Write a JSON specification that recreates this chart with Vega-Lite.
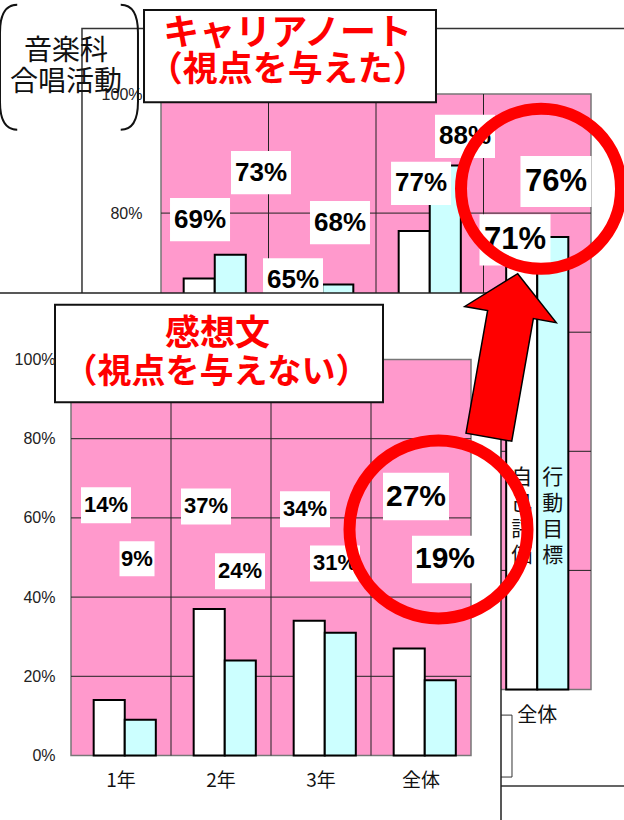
{
  "$schema": "https://vega.github.io/schema/vega-lite/v6.json",
  "width": 624,
  "height": 820,
  "autosize": "none",
  "padding": 0,
  "background": "white",
  "config": {"view": {"stroke": null}},
  "datasets": {
    "bars": [
      {"chart": "キャリアノート", "cat": "1年", "series": "自己評価", "value": 0.69, "lu": 0.363, "ly": 0.789},
      {"chart": "キャリアノート", "cat": "1年", "series": "行動目標", "value": 0.73, "lu": 0.93, "ly": 0.868},
      {"chart": "キャリアノート", "cat": "2年", "series": "自己評価", "value": 0.65, "lu": 1.228, "ly": 0.688},
      {"chart": "キャリアノート", "cat": "2年", "series": "行動目標", "value": 0.68, "lu": 1.665, "ly": 0.784},
      {"chart": "キャリアノート", "cat": "3年", "series": "自己評価", "value": 0.77, "lu": 2.419, "ly": 0.85},
      {"chart": "キャリアノート", "cat": "3年", "series": "行動目標", "value": 0.88, "lu": 2.828, "ly": 0.929},
      {"chart": "キャリアノート", "cat": "全体", "series": "自己評価", "value": 0.71, "lu": 3.293, "ly": 0.755},
      {"chart": "キャリアノート", "cat": "全体", "series": "行動目標", "value": 0.76, "lu": 3.674, "ly": 0.853},
      {"chart": "感想文", "cat": "1年", "series": "自己評価", "value": 0.14, "lu": 0.35, "ly": 0.632},
      {"chart": "感想文", "cat": "1年", "series": "行動目標", "value": 0.09, "lu": 0.66, "ly": 0.497},
      {"chart": "感想文", "cat": "2年", "series": "自己評価", "value": 0.37, "lu": 1.35, "ly": 0.629},
      {"chart": "感想文", "cat": "2年", "series": "行動目標", "value": 0.24, "lu": 1.69, "ly": 0.465},
      {"chart": "感想文", "cat": "3年", "series": "自己評価", "value": 0.34, "lu": 2.34, "ly": 0.622},
      {"chart": "感想文", "cat": "3年", "series": "行動目標", "value": 0.31, "lu": 2.64, "ly": 0.485},
      {"chart": "感想文", "cat": "全体", "series": "自己評価", "value": 0.27, "lu": 3.45, "ly": 0.654},
      {"chart": "感想文", "cat": "全体", "series": "行動目標", "value": 0.19, "lu": 3.74, "ly": 0.495}
    ],
    "one": [{"k": 1}]
  },
  "resolve": {"scale": {"x": "independent", "y": "independent"}, "axis": {"x": "independent", "y": "independent"}},
  "layer": [
    {
      "data": {"name": "one"},
      "layer": [
        {
          "mark": {"type": "rect", "fillOpacity": 0, "stroke": "#333", "strokeWidth": 1.5},
          "encoding": {
            "x": {"datum": -0.735, "type": "quantitative", "scale": {"domain": [0, 4], "range": [161, 591], "nice": false, "zero": false}, "axis": null},
            "x2": {"datum": 4.5},
            "y": {"datum": 1.11, "type": "quantitative", "scale": {"domain": [0, 1], "range": [689.5, 94], "nice": false}, "axis": null},
            "y2": {"datum": -0.162}
          }
        },
        {
          "mark": {"type": "rect", "fill": "#ff99cc", "stroke": "#777", "strokeWidth": 1.5},
          "encoding": {
            "x": {"datum": 0, "type": "quantitative", "scale": {"domain": [0, 4], "range": [161, 591], "nice": false, "zero": false}, "axis": null},
            "x2": {"datum": 4},
            "y": {"datum": 0, "type": "quantitative", "scale": {"domain": [0, 1], "range": [689.5, 94], "nice": false}, "axis": null},
            "y2": {"datum": 1}
          }
        },
        {
          "data": {"values": [{"v": 0.2}, {"v": 0.4}, {"v": 0.6}, {"v": 0.8}]},
          "mark": {"type": "rule", "color": "#222", "strokeWidth": 1},
          "encoding": {
            "y": {"field": "v", "type": "quantitative", "scale": {"domain": [0, 1], "range": [689.5, 94], "nice": false}, "axis": null},
            "x": {"datum": 0, "type": "quantitative", "scale": {"domain": [0, 4], "range": [161, 591], "nice": false, "zero": false}, "axis": null},
            "x2": {"datum": 4}
          }
        },
        {
          "data": {"values": [{"k": 1}, {"k": 2}, {"k": 3}]},
          "mark": {"type": "rule", "color": "#222", "strokeWidth": 1},
          "encoding": {
            "x": {"field": "k", "type": "quantitative", "scale": {"domain": [0, 4], "range": [161, 591], "nice": false, "zero": false}, "axis": null},
            "y": {"datum": 0, "type": "quantitative", "scale": {"domain": [0, 1], "range": [689.5, 94], "nice": false}, "axis": null},
            "y2": {"datum": 1}
          }
        }
      ]
    },
    {
      "data": {"name": "bars"},
      "transform": [{"filter": "datum.chart === 'キャリアノート'"}],
      "layer": [
        {
          "mark": {"type": "bar", "stroke": "black", "strokeWidth": 2},
          "encoding": {
            "x": {"field": "cat", "type": "nominal", "sort": ["1年", "2年", "3年", "全体"], "scale": {"range": [161, 591], "paddingInner": 0, "paddingOuter": 0},
              "axis": {"orient": "bottom", "offset": -130.5, "values": ["全体"], "ticks": false, "domain": false, "grid": false, "title": null, "labelAngle": 0, "labelPadding": 16, "labelFont": "Noto Sans CJK JP", "labelFontSize": 20, "labelColor": "#111", "labelBaseline": "top", "zindex": 0}},
            "xOffset": {"field": "series", "type": "nominal", "sort": ["自己評価", "行動目標"], "scale": {"paddingInner": 0, "paddingOuter": 0.73}},
            "y": {"field": "value", "type": "quantitative", "scale": {"domain": [0, 1], "range": [689.5, 94], "nice": false},
              "axis": {"orient": "left", "offset": -161, "values": [0.8, 1], "format": ".0%", "ticks": false, "domain": false, "grid": false, "title": null, "labelPadding": 19, "labelFont": "Liberation Sans", "labelFontSize": 16, "labelColor": "#222", "zindex": 0}},
            "fill": {"field": "series", "type": "nominal", "scale": {"domain": ["自己評価", "行動目標"], "range": ["#ffffff", "#ccffff"]}, "legend": null}
          }
        },
        {
          "transform": [{"filter": "datum.cat === '全体'"}, {"calculate": "split(datum.series, '')", "as": "chars"}],
          "mark": {"type": "text", "font": "Noto Sans CJK JP", "fontSize": 21, "lineHeight": 26, "baseline": "middle", "align": "center", "color": "#111"},
          "encoding": {
            "x": {"field": "cat", "type": "nominal", "sort": ["1年", "2年", "3年", "全体"]},
            "xOffset": {"field": "series", "type": "nominal", "sort": ["自己評価", "行動目標"]},
            "y": {"datum": 0.356, "type": "quantitative"},
            "text": {"field": "chars"}
          }
        }
      ]
    },
    {
      "layer": [
        {
          "data": {"name": "one"},
          "mark": {"type": "rect", "fill": "white", "stroke": "#333", "strokeWidth": 1},
          "encoding": {
            "x": {"datum": 3.1, "type": "quantitative", "scale": {"domain": [0, 4], "range": [161, 591], "nice": false, "zero": false}, "axis": null},
            "x2": {"datum": 3.265},
            "y": {"datum": -0.043, "type": "quantitative", "scale": {"domain": [0, 1], "range": [689.5, 94], "nice": false}, "axis": null},
            "y2": {"datum": -0.147}
          }
        },
        {
          "data": {"name": "bars"},
          "transform": [{"filter": "datum.chart === 'キャリアノート'"}],
          "mark": {"type": "point", "filled": true, "color": "white", "opacity": 1, "strokeWidth": 0, "shape": "M-1,-0.72L1,-0.72L1,0.72L-1,0.72Z"},
          "encoding": {
            "x": {"field": "lu", "type": "quantitative", "scale": {"domain": [0, 4], "range": [161, 591], "nice": false, "zero": false}, "axis": null},
            "y": {"field": "ly", "type": "quantitative", "scale": {"domain": [0, 1], "range": [689.5, 94], "nice": false}, "axis": null},
            "size": {"condition": {"test": "datum.cat === '全体'", "value": 5041}, "value": 3600}
          }
        },
        {
          "data": {"name": "bars"},
          "transform": [{"filter": "datum.chart === 'キャリアノート'"}],
          "mark": {"type": "text", "font": "Liberation Sans", "fontWeight": "bold", "align": "center", "baseline": "middle", "color": "black"},
          "encoding": {
            "x": {"field": "lu", "type": "quantitative", "scale": {"domain": [0, 4], "range": [161, 591], "nice": false, "zero": false}, "axis": null},
            "y": {"field": "ly", "type": "quantitative", "scale": {"domain": [0, 1], "range": [689.5, 94], "nice": false}, "axis": null},
            "text": {"field": "value", "type": "quantitative", "format": ".0%"},
            "size": {"condition": {"test": "datum.cat === '全体'", "value": 31}, "value": 26}
          }
        },
        {
          "data": {"name": "one"},
          "mark": {"type": "point", "shape": "circle", "filled": false, "color": "#ff0000", "strokeWidth": 12, "size": 25600, "opacity": 1},
          "encoding": {
            "x": {"datum": 3.535, "type": "quantitative", "scale": {"domain": [0, 4], "range": [161, 591], "nice": false, "zero": false}, "axis": null},
            "y": {"datum": 0.841, "type": "quantitative", "scale": {"domain": [0, 1], "range": [689.5, 94], "nice": false}, "axis": null}
          }
        },
        {
          "data": {"name": "one"},
          "mark": {"type": "rect", "fill": "white", "stroke": "#111", "strokeWidth": 2},
          "encoding": {
            "x": {"datum": -0.158, "type": "quantitative", "scale": {"domain": [0, 4], "range": [161, 591], "nice": false, "zero": false}, "axis": null},
            "x2": {"datum": 2.558},
            "y": {"datum": 1.141, "type": "quantitative", "scale": {"domain": [0, 1], "range": [689.5, 94], "nice": false}, "axis": null},
            "y2": {"datum": 0.986}
          }
        },
        {
          "data": {"name": "one"},
          "mark": {"type": "text", "text": "キャリアノート", "font": "Noto Sans CJK JP", "fontWeight": "bold", "fontSize": 36, "color": "#ff0000", "align": "center", "baseline": "middle"},
          "encoding": {
            "x": {"datum": 1.177, "type": "quantitative", "scale": {"domain": [0, 4], "range": [161, 591], "nice": false, "zero": false}, "axis": null},
            "y": {"datum": 1.1, "type": "quantitative", "scale": {"domain": [0, 1], "range": [689.5, 94], "nice": false}, "axis": null}
          }
        },
        {
          "data": {"name": "one"},
          "mark": {"type": "text", "text": "（視点を与えた）", "font": "Noto Sans CJK JP", "fontWeight": "bold", "fontSize": 35, "color": "#ff0000", "align": "center", "baseline": "middle"},
          "encoding": {
            "x": {"datum": 1.18, "type": "quantitative", "scale": {"domain": [0, 4], "range": [161, 591], "nice": false, "zero": false}, "axis": null},
            "y": {"datum": 1.04, "type": "quantitative", "scale": {"domain": [0, 1], "range": [689.5, 94], "nice": false}, "axis": null}
          }
        },
        {
          "data": {"name": "one"},
          "mark": {"type": "text", "text": "音楽科", "font": "Noto Sans CJK JP", "fontSize": 28, "color": "#111", "align": "center", "baseline": "middle"},
          "encoding": {
            "x": {"datum": -0.884, "type": "quantitative", "scale": {"domain": [0, 4], "range": [161, 591], "nice": false, "zero": false}, "axis": null},
            "y": {"datum": 1.071, "type": "quantitative", "scale": {"domain": [0, 1], "range": [689.5, 94], "nice": false}, "axis": null}
          }
        },
        {
          "data": {"name": "one"},
          "mark": {"type": "text", "text": "合唱活動", "font": "Noto Sans CJK JP", "fontSize": 28, "color": "#111", "align": "center", "baseline": "middle"},
          "encoding": {
            "x": {"datum": -0.884, "type": "quantitative", "scale": {"domain": [0, 4], "range": [161, 591], "nice": false, "zero": false}, "axis": null},
            "y": {"datum": 1.019, "type": "quantitative", "scale": {"domain": [0, 1], "range": [689.5, 94], "nice": false}, "axis": null}
          }
        },
        {
          "data": {"name": "one"},
          "mark": {"type": "point", "shape": "M-0.75,-0.906Q-1,-0.906,-1,-0.5L-1,0.5Q-1,0.906,-0.75,0.906M0.75,-0.906Q1,-0.906,1,-0.5L1,0.5Q1,0.906,0.75,0.906", "filled": false, "color": "#111", "strokeWidth": 2, "size": 19044, "opacity": 1},
          "encoding": {
            "x": {"datum": -0.856, "type": "quantitative", "scale": {"domain": [0, 4], "range": [161, 591], "nice": false, "zero": false}, "axis": null},
            "y": {"datum": 1.045, "type": "quantitative", "scale": {"domain": [0, 1], "range": [689.5, 94], "nice": false}, "axis": null}
          }
        }
      ]
    },
    {
      "data": {"name": "one"},
      "layer": [
        {
          "mark": {"type": "rect", "fill": "white", "stroke": "#222", "strokeWidth": 1.5},
          "encoding": {
            "x": {"datum": -0.75, "type": "quantitative", "scale": {"domain": [0, 4], "range": [71, 471], "nice": false, "zero": false}, "axis": null},
            "x2": {"datum": 4.3},
            "y": {"datum": 1.168, "type": "quantitative", "scale": {"domain": [0, 1], "range": [755.5, 359.5], "nice": false}, "axis": null},
            "y2": {"datum": -0.2}
          }
        },
        {
          "mark": {"type": "rect", "fill": "#ff99cc", "stroke": "#777", "strokeWidth": 1.5},
          "encoding": {
            "x": {"datum": 0, "type": "quantitative", "scale": {"domain": [0, 4], "range": [71, 471], "nice": false, "zero": false}, "axis": null},
            "x2": {"datum": 4},
            "y": {"datum": 0, "type": "quantitative", "scale": {"domain": [0, 1], "range": [755.5, 359.5], "nice": false}, "axis": null},
            "y2": {"datum": 1}
          }
        },
        {
          "data": {"values": [{"v": 0.2}, {"v": 0.4}, {"v": 0.6}, {"v": 0.8}]},
          "mark": {"type": "rule", "color": "#222", "strokeWidth": 1},
          "encoding": {
            "y": {"field": "v", "type": "quantitative", "scale": {"domain": [0, 1], "range": [755.5, 359.5], "nice": false}, "axis": null},
            "x": {"datum": 0, "type": "quantitative", "scale": {"domain": [0, 4], "range": [71, 471], "nice": false, "zero": false}, "axis": null},
            "x2": {"datum": 4}
          }
        },
        {
          "data": {"values": [{"k": 1}, {"k": 2}, {"k": 3}]},
          "mark": {"type": "rule", "color": "#222", "strokeWidth": 1},
          "encoding": {
            "x": {"field": "k", "type": "quantitative", "scale": {"domain": [0, 4], "range": [71, 471], "nice": false, "zero": false}, "axis": null},
            "y": {"datum": 0, "type": "quantitative", "scale": {"domain": [0, 1], "range": [755.5, 359.5], "nice": false}, "axis": null},
            "y2": {"datum": 1}
          }
        }
      ]
    },
    {
      "data": {"name": "bars"},
      "transform": [{"filter": "datum.chart === '感想文'"}],
      "mark": {"type": "bar", "stroke": "black", "strokeWidth": 2},
      "encoding": {
        "x": {"field": "cat", "type": "nominal", "sort": ["1年", "2年", "3年", "全体"], "scale": {"range": [71, 471], "paddingInner": 0, "paddingOuter": 0},
          "axis": {"orient": "bottom", "offset": -64.5, "ticks": false, "domain": false, "grid": false, "title": null, "labelAngle": 0, "labelPadding": 16, "labelFont": "Noto Sans CJK JP", "labelFontSize": 19, "labelColor": "#111", "labelBaseline": "top", "zindex": 1}},
        "xOffset": {"field": "series", "type": "nominal", "sort": ["自己評価", "行動目標"], "scale": {"paddingInner": 0, "paddingOuter": 0.73}},
        "y": {"field": "value", "type": "quantitative", "scale": {"domain": [0, 1], "range": [755.5, 359.5], "nice": false},
          "axis": {"orient": "left", "offset": -71, "values": [0, 0.2, 0.4, 0.6, 0.8, 1], "format": ".0%", "ticks": false, "domain": false, "grid": false, "title": null, "labelPadding": 16, "labelFont": "Liberation Sans", "labelFontSize": 16, "labelColor": "#222", "zindex": 1}},
        "fill": {"field": "series", "type": "nominal", "scale": {"domain": ["自己評価", "行動目標"], "range": ["#ffffff", "#ccffff"]}, "legend": null}
      }
    },
    {
      "layer": [
        {
          "data": {"name": "bars"},
          "transform": [{"filter": "datum.chart === '感想文'"}],
          "mark": {"type": "point", "filled": true, "color": "white", "opacity": 1, "strokeWidth": 0},
          "encoding": {
            "x": {"field": "lu", "type": "quantitative", "scale": {"domain": [0, 4], "range": [71, 471], "nice": false, "zero": false}, "axis": null},
            "y": {"field": "ly", "type": "quantitative", "scale": {"domain": [0, 1], "range": [755.5, 359.5], "nice": false}, "axis": null},
            "shape": {"condition": {"test": "datum.value < 0.1", "value": "square"}, "value": "M-1,-0.72L1,-0.72L1,0.72L-1,0.72Z"},
            "size": {"condition": [{"test": "datum.cat === '全体'", "value": 4356}, {"test": "datum.value < 0.1", "value": 1225}], "value": 2500}
          }
        },
        {
          "data": {"name": "bars"},
          "transform": [{"filter": "datum.chart === '感想文'"}],
          "mark": {"type": "text", "font": "Liberation Sans", "fontWeight": "bold", "align": "center", "baseline": "middle", "color": "black"},
          "encoding": {
            "x": {"field": "lu", "type": "quantitative", "scale": {"domain": [0, 4], "range": [71, 471], "nice": false, "zero": false}, "axis": null},
            "y": {"field": "ly", "type": "quantitative", "scale": {"domain": [0, 1], "range": [755.5, 359.5], "nice": false}, "axis": null},
            "text": {"field": "value", "type": "quantitative", "format": ".0%"},
            "size": {"condition": {"test": "datum.cat === '全体'", "value": 30}, "value": 22}
          }
        },
        {
          "data": {"name": "one"},
          "mark": {"type": "rect", "fill": "white", "stroke": "#111", "strokeWidth": 2},
          "encoding": {
            "x": {"datum": -0.16, "type": "quantitative", "scale": {"domain": [0, 4], "range": [71, 471], "nice": false, "zero": false}, "axis": null},
            "x2": {"datum": 3.12},
            "y": {"datum": 1.138, "type": "quantitative", "scale": {"domain": [0, 1], "range": [755.5, 359.5], "nice": false}, "axis": null},
            "y2": {"datum": 0.892}
          }
        },
        {
          "data": {"name": "one"},
          "mark": {"type": "text", "text": "感想文", "font": "Noto Sans CJK JP", "fontWeight": "bold", "fontSize": 35, "color": "#ff0000", "align": "center", "baseline": "middle"},
          "encoding": {
            "x": {"datum": 1.465, "type": "quantitative", "scale": {"domain": [0, 4], "range": [71, 471], "nice": false, "zero": false}, "axis": null},
            "y": {"datum": 1.065, "type": "quantitative", "scale": {"domain": [0, 1], "range": [755.5, 359.5], "nice": false}, "axis": null}
          }
        },
        {
          "data": {"name": "one"},
          "mark": {"type": "text", "text": "（視点を与えない）", "font": "Noto Sans CJK JP", "fontWeight": "bold", "fontSize": 34, "color": "#ff0000", "align": "center", "baseline": "middle"},
          "encoding": {
            "x": {"datum": 1.455, "type": "quantitative", "scale": {"domain": [0, 4], "range": [71, 471], "nice": false, "zero": false}, "axis": null},
            "y": {"datum": 0.967, "type": "quantitative", "scale": {"domain": [0, 1], "range": [755.5, 359.5], "nice": false}, "axis": null}
          }
        },
        {
          "data": {"name": "one"},
          "mark": {"type": "point", "shape": "circle", "filled": false, "color": "#ff0000", "strokeWidth": 12, "size": 31684, "opacity": 1},
          "encoding": {
            "x": {"datum": 3.675, "type": "quantitative", "scale": {"domain": [0, 4], "range": [71, 471], "nice": false, "zero": false}, "axis": null},
            "y": {"datum": 0.571, "type": "quantitative", "scale": {"domain": [0, 1], "range": [755.5, 359.5], "nice": false}, "axis": null}
          }
        }
      ]
    },
    {
      "data": {"name": "one"},
      "mark": {"type": "point", "shape": "M0,-1L0.56,-0.5L0.28,-0.5L0.28,1L-0.28,1L-0.28,-0.5L-0.56,-0.5Z", "filled": true, "color": "#ff0000", "fill": "#ff0000", "stroke": "black", "strokeWidth": 1.5, "opacity": 1, "size": 27556, "angle": 10},
      "encoding": {
        "x": {"datum": 3.184, "type": "quantitative", "scale": {"domain": [0, 4], "range": [161, 591], "nice": false, "zero": false}, "axis": null},
        "y": {"datum": 0.561, "type": "quantitative", "scale": {"domain": [0, 1], "range": [689.5, 94], "nice": false}, "axis": null}
      }
    }
  ]
}
